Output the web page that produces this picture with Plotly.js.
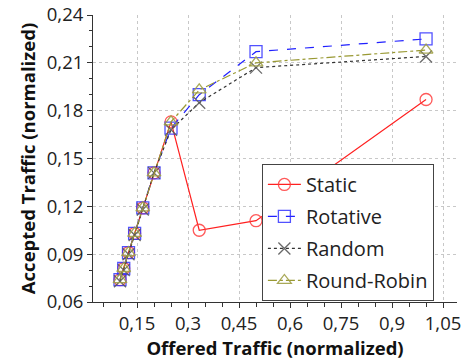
<!DOCTYPE html>
<html>
<head>
<meta charset="utf-8">
<script src="https://cdn.plot.ly/plotly-3.0.1.min.js"></script>
<style>html,body{margin:0;padding:0;background:#fff;}#chart{width:462px;height:362px;}</style>
</head>
<body>
<div id="chart"></div>
<script>
var offered = [0.1, 0.111, 0.125, 0.143, 0.167, 0.2, 0.25, 0.333, 0.5, 1.0];
var staticVals = [0.074, 0.081, 0.091, 0.103, 0.119, 0.141, 0.173, 0.105, 0.111, 0.187];
var rotativeVals = [0.074, 0.081, 0.091, 0.103, 0.119, 0.141, 0.169, 0.190, 0.217, 0.225];
var randomVals = [0.073, 0.080, 0.090, 0.102, 0.118, 0.141, 0.168, 0.185, 0.207, 0.214];
var roundRobinVals = [0.074, 0.081, 0.091, 0.103, 0.119, 0.141, 0.173, 0.193, 0.210, 0.218];
var seriesNames = ['Static', 'Rotative', 'Random', 'Round-Robin'];
var xTickVals = [0.15, 0.3, 0.45, 0.6, 0.75, 0.9, 1.05];
var xTickText = ['0,15', '0,3', '0,45', '0,6', '0,75', '0,9', '1,05'];
var yTickVals = [0.06, 0.09, 0.12, 0.15, 0.18, 0.21, 0.24];
var yTickText = ['0,06', '0,09', '0,12', '0,15', '0,18', '0,21', '0,24'];

var FONT = '"Open Sans", "Noto Sans", sans-serif';

function mk(name, y, color, mcolor, dash, symbol, group) {
  return {
    x: offered, y: y, name: name, type: 'scatter', mode: 'lines+markers',
    legendgroup: group,
    line: {color: color, width: 1.2, dash: dash},
    marker: {symbol: symbol, size: 12, color: mcolor, line: {color: mcolor, width: 1.3}}
  };
}

var traces = [
  mk(seriesNames[0], staticVals, '#ff2020', 'rgba(255,60,60,0.85)', 'solid', 'circle-open', 'a'),
  mk(seriesNames[1], rotativeVals, '#2020ff', 'rgba(50,50,255,0.85)', 'dash', 'square-open', 'b'),
  mk(seriesNames[2], randomVals, '#333333', 'rgba(90,90,90,0.9)', 'dot', 'x-thin-open', 'c'),
  mk(seriesNames[3], roundRobinVals, '#999933', 'rgba(160,160,70,0.9)', 'dashdot', 'triangle-up-open', 'd')
];

var axisCommon = {
  showline: true, linecolor: '#333', linewidth: 1,
  ticks: 'outside', ticklen: 5, tickcolor: '#333', tickwidth: 1,
  showgrid: true, gridcolor: '#c8c8c8', griddash: 'dot', gridwidth: 1,
  zeroline: false, tickmode: 'array',
  tickfont: {family: FONT, size: 18.5, color: '#222'}
};

var layout = {
  width: 462, height: 362,
  margin: {l: 93, r: 5, t: 15, b: 60},
  paper_bgcolor: '#fff', plot_bgcolor: '#fff',
  font: {family: FONT, color: '#222'},
  showlegend: true,
  legend: {
    x: 0.464, y: 0.481, xanchor: 'left', yanchor: 'top',
    bordercolor: '#444', borderwidth: 1, bgcolor: '#fff',
    font: {family: FONT, size: 20, color: '#222'},
    itemwidth: 33,
    traceorder: 'grouped', tracegroupgap: 3
  },
  xaxis: Object.assign({}, axisCommon, {
    range: [0.0206, 1.091],
    tickvals: xTickVals, ticktext: xTickText,
    minor: {tickmode: 'linear', tick0: 0, dtick: 0.05, ticks: 'outside', ticklen: 4, tickcolor: '#333', showgrid: false},
    title: {text: '<b>Offered Traffic (normalized)</b>', font: {family: FONT, size: 18.5, color: '#111'}, standoff: 6}
  }),
  yaxis: Object.assign({}, axisCommon, {
    range: [0.06, 0.24],
    tickvals: yTickVals, ticktext: yTickText,
    minor: {tickmode: 'linear', tick0: 0, dtick: 0.01, ticks: 'outside', ticklen: 3, tickcolor: '#333', showgrid: false},
    title: {text: '<b>Accepted Traffic (normalized)</b>', font: {family: FONT, size: 18.5, color: '#111'}, standoff: 6}
  })
};

Plotly.newPlot('chart', traces, layout, {displayModeBar: false, staticPlot: true});
</script>
</body>
</html>
